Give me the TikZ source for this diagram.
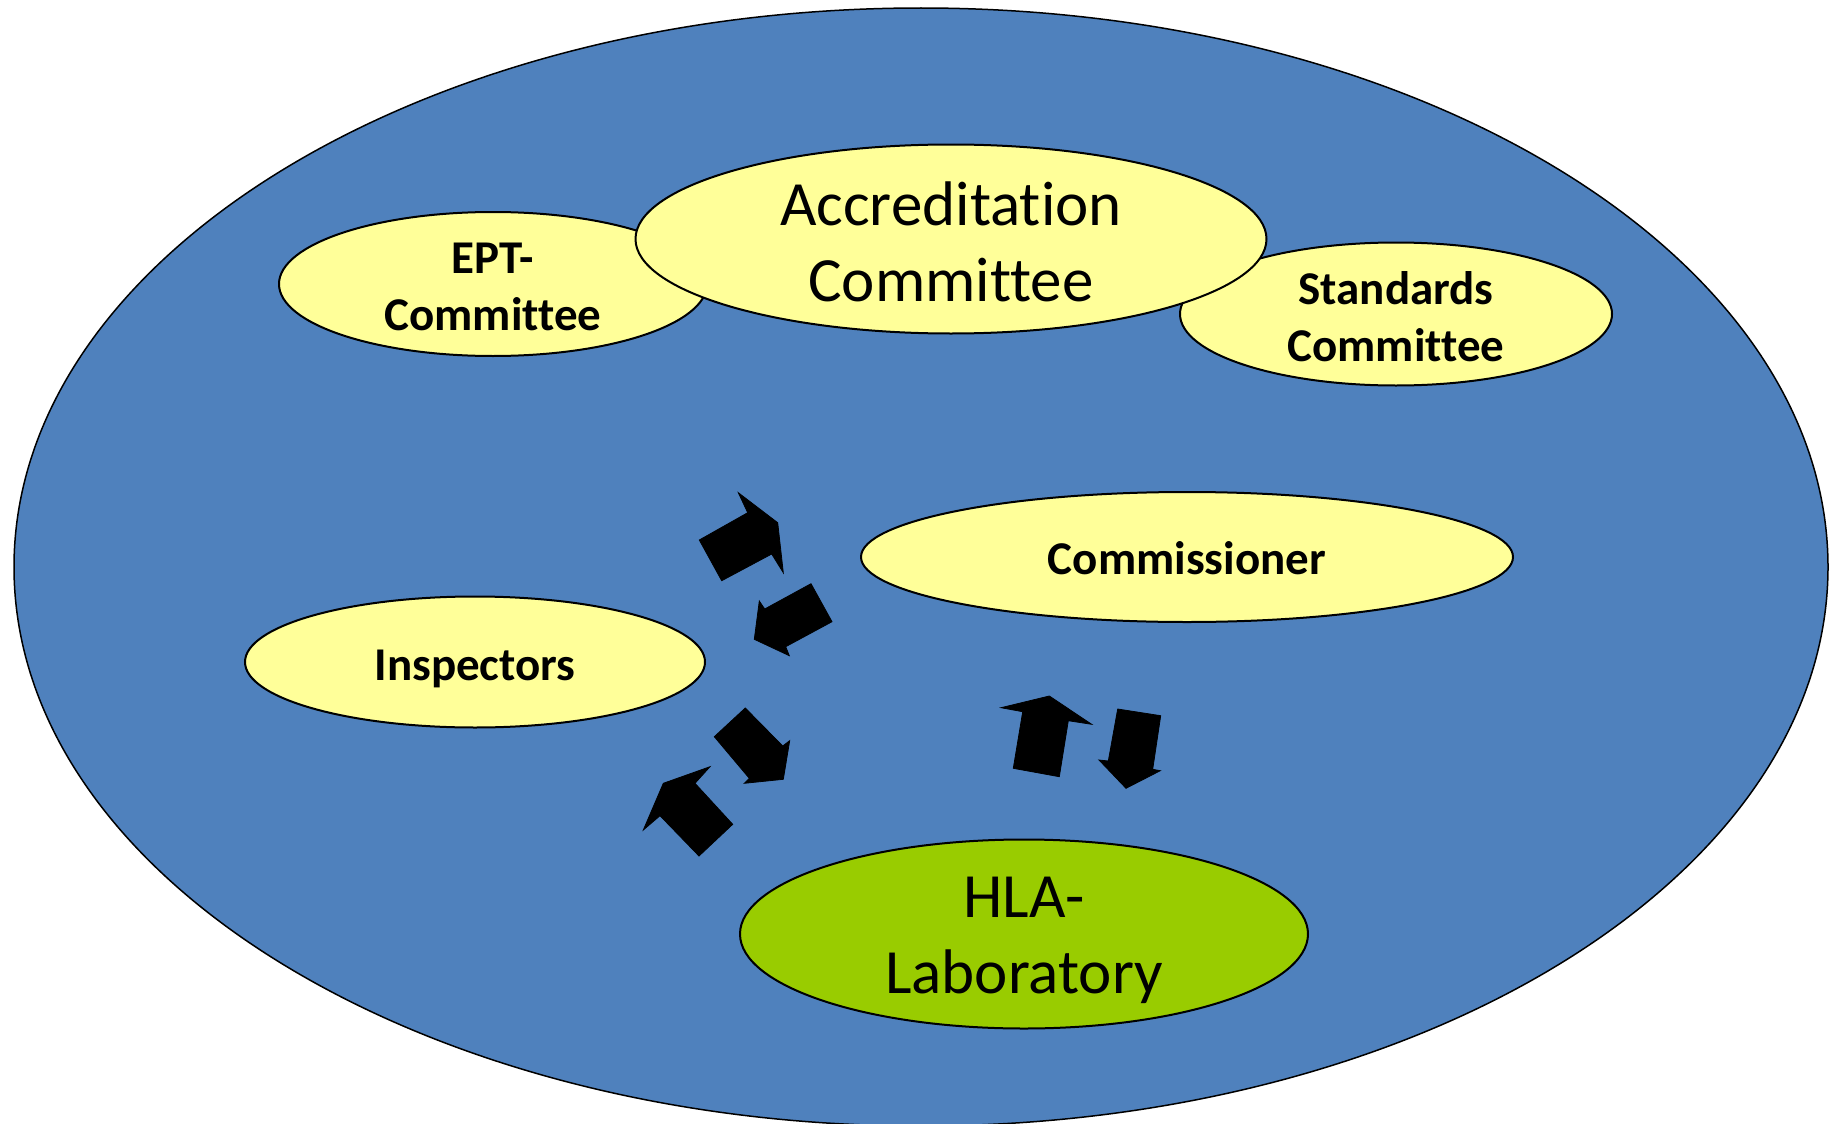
\documentclass[tikz,border=0pt]{standalone}
\usepackage{fontspec}
\setmainfont{Carlito}[RawFeature={-liga;-clig;-calt;-dlig}]
\usetikzlibrary{shapes.geometric}
\definecolor{bigblue}{HTML}{4F81BD}
\definecolor{paleyellow}{HTML}{FFFF99}
\definecolor{limegreen}{HTML}{99CC00}
\tikzset{
  oval/.style={ellipse, draw=black, line width=2pt, fill=paleyellow, inner sep=0pt},
  bigtext/.style={font=\fontsize{63}{76}\selectfont, align=center, inner sep=0pt},
  boldtext/.style={font=\fontsize{47}{57}\selectfont\bfseries, align=center, inner sep=0pt},
  blockarrow/.style={fill=black, draw=black, line width=0.8pt, line join=miter}
}
\begin{document}
\begin{tikzpicture}[x=1pt,y=-1pt]
\useasboundingbox (0,0) rectangle (1829,1124);
\begin{scope}
\clip (0,0) rectangle (1829,1124);
\node[ellipse, draw=black, line width=1.5pt, fill=bigblue, minimum width=1814pt, minimum height=1118pt, inner sep=0pt] (world) at (921,567) {};
\end{scope}
\node[oval, minimum width=428pt, minimum height=144pt] (ept) at (493,284) {};
\node[boldtext] (eptlabel) at ([yshift=-2.5pt]ept.center) {EPT-\\Committee};
\node[oval, minimum width=432pt, minimum height=143pt] (std) at (1396,314) {};
\node[boldtext] (stdlabel) at ([yshift=-2.5pt]std.center) {Standards\\Committee};
\node[oval, minimum width=631pt, minimum height=189pt] (acc) at (951,239) {};
\node[bigtext] (acclabel) at ([yshift=-2.5pt]acc.center) {Accreditation\\Committee};
\node[oval, minimum width=652pt, minimum height=130pt] (comm) at (1187,557) {};
\node[boldtext] (commlabel) at ([yshift=-1pt]comm.center) {Commissioner};
\node[oval, minimum width=460pt, minimum height=131pt] (insp) at (475,662) {};
\node[boldtext] (insplabel) at ([yshift=-7pt]insp.center) {Inspectors};
\node[oval, fill=limegreen, minimum width=568pt, minimum height=189pt] (hla) at (1024,934) {};
\node[bigtext] (hlalabel) at ([yshift=-6.5pt]hla.center) {HLA-\\Laboratory};
% block arrows
\fill[blockarrow] (699.3,540) -- (747.7,512.7) -- (738.3,492.7) -- (777.7,522.7) -- (783.3,572.7) -- (771.7,554) -- (721.7,580.7) -- cycle;
\fill[blockarrow] (811,583.7) -- (832,621.7) -- (785.7,646.7) -- (789.3,655.7) -- (754.3,639.3) -- (759.3,601) -- (764.7,609) -- cycle;
\fill[blockarrow] (745.3,708) -- (782.7,746) -- (789.7,740.7) -- (783.3,779.3) -- (744.3,783.3) -- (749.3,778.3) -- (714.3,736.7) -- cycle;
\fill[blockarrow] (710,766.7) -- (695,783.3) -- (732.7,824.3) -- (699,856) -- (660,815.7) -- (643.3,830) -- (663.3,783.3) -- cycle;
\fill[blockarrow] (1001,707.7) -- (1049.3,696) -- (1091.7,724.3) -- (1068.3,720.7) -- (1059.3,776.7) -- (1013.3,768.3) -- (1022.7,711.7) -- cycle;
\fill[blockarrow] (1117.7,709) -- (1160.7,715.7) -- (1152.7,769.3) -- (1160.3,770.7) -- (1126,788.3) -- (1099,760) -- (1108.3,761) -- cycle;
\end{tikzpicture}
\end{document}
